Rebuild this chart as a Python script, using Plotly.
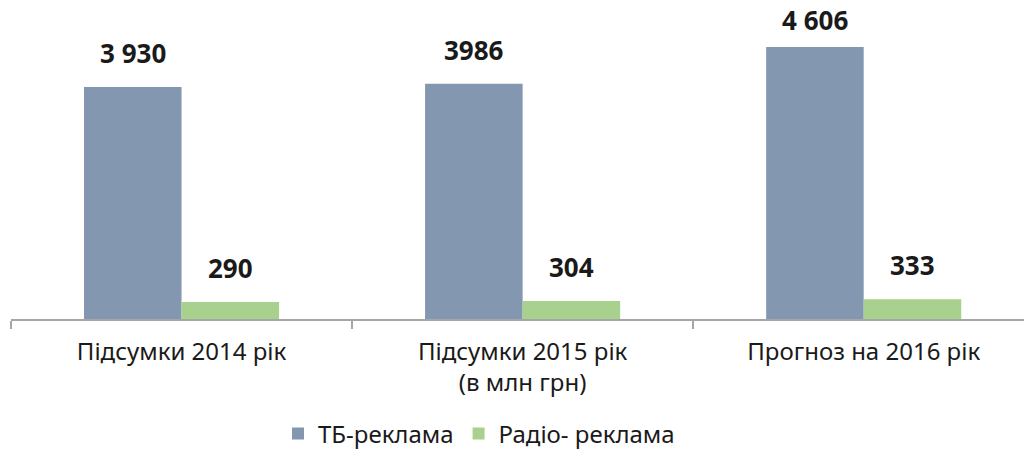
import plotly.graph_objects as go

categories = ["Підсумки 2014 рік", "Підсумки 2015 рік<br>(в млн грн)", "Прогноз на 2016 рік"]
tv_values = [3930, 3986, 4606]
radio_values = [290, 304, 333]
tv_labels = ["3 930", "3986", "4 606"]
radio_labels = ["290", "304", "333"]
series_names = ["ТБ-реклама", "Радіо- реклама"]

FONT = "Noto Sans"
PLOT_H = 319
Y_MAX = 5404

fig = go.Figure()
fig.add_trace(go.Bar(x=categories, y=tv_values, name=series_names[0],
                     marker=dict(color="#8497b0", line=dict(width=0))))
fig.add_trace(go.Bar(x=categories, y=radio_values, name=series_names[1],
                     marker=dict(color="#a9d18e", line=dict(width=0))))

annotations = []
for i, c in enumerate(categories):
    for vals, labs, shift in ((tv_values, tv_labels, -48.5), (radio_values, radio_labels, 48.5)):
        top_px = PLOT_H - vals[i] * PLOT_H / Y_MAX
        ys = min(14, top_px - 40)  # keep label inside the chart area
        annotations.append(dict(x=c, y=vals[i], text=labs[i], xref="x", yref="y",
                                xshift=shift, yshift=ys, yanchor="bottom", showarrow=False,
                                font=dict(family=FONT, size=26, color="#1a1a1a", weight="bold")))

fig.update_layout(
    width=1024, height=450,
    margin=dict(l=11, r=0, t=0, b=131, autoexpand=False),
    paper_bgcolor="white", plot_bgcolor="white",
    barmode="group", bargap=0.428, bargroupgap=0,
    font=dict(family=FONT, size=24, color="#1a1a1a"),
    showlegend=True,
    legend=dict(orientation="h", x=0.462, xanchor="center", y=-0.36, yanchor="middle",
                font=dict(family=FONT, size=24, color="#1a1a1a"), itemwidth=30,
                traceorder="normal"),
    annotations=annotations,
    xaxis=dict(range=[-0.5, 2.47], showline=True, linecolor="#a6a6a6", linewidth=1.5,
               ticks="outside", tickson="boundaries", ticklen=8, tickcolor="#a6a6a6",
               tickwidth=1.5, tickfont=dict(family=FONT, size=24, color="#1a1a1a"),
               ticklabelstandoff=10, automargin=False,
               showgrid=False, zeroline=False, fixedrange=True),
    yaxis=dict(range=[0, Y_MAX], visible=False, showgrid=False, zeroline=False,
               automargin=False, fixedrange=True),
)
fig.write_html("out.html", config={"displayModeBar": False},
               post_script="document.body.style.margin='0';")
